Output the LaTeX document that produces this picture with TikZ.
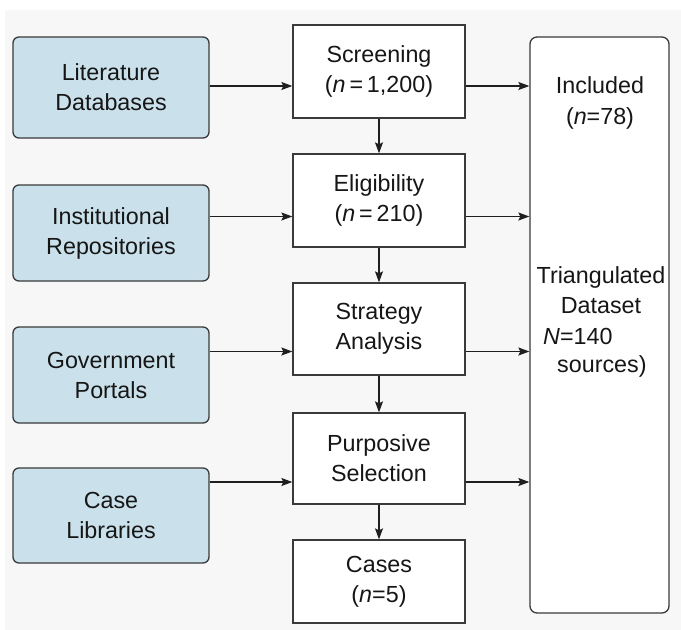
\documentclass[tikz,border=0pt]{standalone}
\usepackage{fontspec}
\setmainfont{Liberation Sans}
\usetikzlibrary{arrows.meta}
\definecolor{srcblue}{HTML}{CAE1EB}
\definecolor{edgec}{HTML}{3A3A3A}
\definecolor{bgc}{HTML}{F7F7F7}
\definecolor{txt}{HTML}{161616}
\begin{document}
\begin{tikzpicture}[x=1pt,y=-1pt,
  font=\fontsize{23.3}{30}\selectfont, text=txt,
  src/.style={draw=edgec, line width=1.3pt, fill=srcblue, rounded corners=6pt,
    minimum width=196pt, align=center, inner sep=0pt},
  stage/.style={draw=edgec, line width=1.3pt, fill=white,
    minimum width=172pt, align=center, inner sep=0pt},
  result/.style={draw=edgec, line width=1.3pt, fill=white, rounded corners=7pt,
    minimum width=139pt, minimum height=576pt, inner sep=0pt},
  arr/.style={draw=black!88, line width=1.2pt, -{Stealth[length=11pt,width=8pt,inset=2pt]}}]
\useasboundingbox (0,0) rectangle (681,630);
\fill[white] (0,0) rectangle (681,630);
\fill[bgc] (5,10) rectangle (681,630);

% source boxes
\node[src, minimum height=101pt] (lit)  at (111,87.5)  {Literature\\Databases};
\node[src, minimum height=96pt]  (inst) at (111,233)   {Institutional\\Repositories};
\node[src, minimum height=96pt]  (gov)  at (111,375)   {Government\\Portals};
\node[src, minimum height=95pt]  (cl)   at (111,515.5) {Case\\Libraries};

% stage boxes
\node[stage, minimum height=93pt] (scr) at (379,71.5)  {Screening\\(\textit{n}\,=\,1,200)};
\node[stage, minimum height=93pt] (eli) at (379,200.5) {Eligibility\\(\textit{n}\,=\,210)};
\node[stage, minimum height=92pt] (stra) at (379,329)  {Strategy\\Analysis};
\node[stage, minimum height=91pt] (pur) at (379,458.5) {Purposive\\Selection};
\node[stage, minimum height=83pt] (cas) at (379,581.5) {Cases\\(\textit{n}=5)};

% result box
\node[result] (res) at (599.5,325) {};
\node[inner sep=0pt, anchor=base] (inc) at (600,93) {Included};
\node[inner sep=0pt, anchor=base] (incn) at (600,124) {(\textit{n}=78)};
\node[inner sep=0pt, anchor=base] (tri) at (601,283) {Triangulated};
\node[inner sep=0pt, anchor=base] (dat) at (601,313) {Dataset};
\node[inner sep=0pt, anchor=base west] (nn) at (543,344) {\textit{N}=140};
\node[inner sep=0pt, anchor=base west] (srcs) at (557,372) {sources)};

% arrow rows
\coordinate (r1) at (0,86);
\coordinate (r2) at (0,216.5);
\coordinate (r3) at (0,351.5);
\coordinate (r4) at (0,482);

\draw[arr] (lit.east |- r1)  -- (scr.west |- r1);
\draw[arr] (inst.east |- r2) -- (eli.west |- r2);
\draw[arr] (gov.east |- r3)  -- (stra.west |- r3);
\draw[arr] (cl.east |- r4)   -- (pur.west |- r4);

\draw[arr] (scr.east |- r1)  -- (res.west |- r1);
\draw[arr] (eli.east |- r2)  -- (res.west |- r2);
\draw[arr] (stra.east |- r3) -- (res.west |- r3);
\draw[arr] (pur.east |- r4)  -- (res.west |- r4);

\draw[arr] (scr.south)  -- (eli.north);
\draw[arr] (eli.south)  -- (stra.north);
\draw[arr] (stra.south) -- (pur.north);
\draw[arr] (pur.south)  -- (cas.north);
\end{tikzpicture}
\end{document}
